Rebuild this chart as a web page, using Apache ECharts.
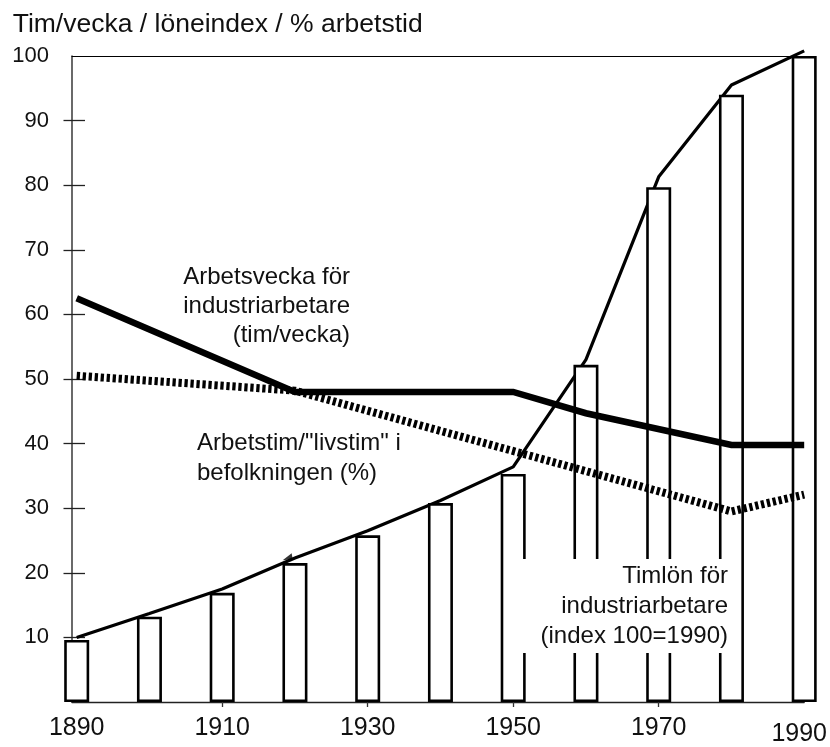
<!DOCTYPE html>
<html>
<head>
<meta charset="utf-8">
<title>Arbetstid och timlön 1890-1990</title>
<script src="https://cdn.jsdelivr.net/npm/echarts@6.0.0/dist/echarts.min.js"></script>
<style>
  html, body { margin: 0; padding: 0; background: #fff; }
  #chart { width: 830px; height: 747px; }
</style>
</head>
<body>
<div id="chart"></div>
<script>
// decades on the x axis
const years = [1890, 1900, 1910, 1920, 1930, 1940, 1950, 1960, 1970, 1980, 1990]
// timlön för industriarbetare, index 100 = 1990 (staplar)
const wageIndex = [9.6, 13.2, 16.9, 21.5, 25.8, 30.8, 35.3, 52.2, 79.7, 94.0, 100]
// tunn linje över staplarna
const wageLine = [10.0, 13.7, 17.5, 22.3, 26.5, 31.2, 36.4, 53.0, 81.3, 95.5, 100.8]
// arbetsvecka för industriarbetare (tim/vecka)
const weekYears = [1890, 1920, 1950, 1960, 1980, 1990]
const weekHours = [62.5, 48.0, 48.0, 44.7, 39.8, 39.8]
// arbetstim / "livstim" i befolkningen (%)
const shareYears = [1890, 1920, 1980, 1990]
const workShare = [50.5, 48.2, 29.5, 32.1]
// small arrow head on the wage line near 1920
const arrowPoint = [1919.0, 22.5]

const xLabels = [1890, 1910, 1930, 1950, 1970, 1990]
const xTicks = [1910, 1930, 1950, 1970]
const yLabels = [10, 20, 30, 40, 50, 60, 70, 80, 90, 100]
const yTicks = [10, 20, 30, 40, 50, 60, 70, 80, 90]

const FONT = '"Liberation Sans", Arial, Helvetica, sans-serif'
const X_MIN = 1889.355
const X_MAX = 1990

const chart = echarts.init(document.getElementById('chart'))

chart.setOption({
  animation: false,
  backgroundColor: '#fff',
  textStyle: { fontFamily: FONT },
  grid: {
    left: 72,
    right: 25,
    top: 56,
    bottom: 40,
    containLabel: false
  },
  xAxis: [
    {
      type: 'value',
      min: X_MIN,
      max: X_MAX,
      position: 'bottom',
      axisLine: { show: true, onZero: false, lineStyle: { color: '#222', width: 1.3 } },
      axisTick: {
        show: true,
        customValues: xTicks,
        length: 5,
        lineStyle: { color: '#333', width: 1.3 }
      },
      axisLabel: {
        customValues: xLabels,
        fontSize: 25,
        color: '#111',
        margin: 14,
        formatter: v => (v === 1990 ? '{low|1990}' : String(v)),
        rich: {
          low: { fontSize: 25, color: '#111', fontFamily: FONT, padding: [6, 10, 0, 0] }
        }
      },
      splitLine: { show: false }
    },
    {
      // thin line along the top of the plot
      type: 'value',
      min: X_MIN,
      max: X_MAX,
      position: 'top',
      axisLine: { show: true, onZero: false, lineStyle: { color: '#000', width: 1.2 } },
      axisTick: { show: false },
      axisLabel: { show: false },
      splitLine: { show: false }
    }
  ],
  yAxis: [
    {
      // ticks crossing the axis + labels (moved 13px into the plot)
      type: 'value',
      min: 0,
      max: 100,
      position: 'left',
      offset: -13,
      axisLine: { show: true, onZero: false, lineStyle: { color: '#fff', opacity: 0, width: 0 } },
      axisTick: {
        show: true,
        customValues: yTicks,
        length: 21.5,
        lineStyle: { color: '#222', width: 1.3 }
      },
      axisLabel: {
        customValues: yLabels,
        fontSize: 22,
        color: '#111',
        margin: 36
      },
      splitLine: { show: false }
    },
    {
      // the visible y axis line
      type: 'value',
      min: 0,
      max: 100,
      position: 'left',
      axisLine: { show: true, onZero: false, lineStyle: { color: '#444', width: 1.6 } },
      axisTick: { show: false },
      axisLabel: { show: false },
      splitLine: { show: false }
    }
  ],
  series: [
    {
      name: 'Timlön linje',
      type: 'line',
      data: years.map((y, i) => [y, wageLine[i]]),
      symbol: 'none',
      clip: false,
      z: 2,
      lineStyle: { color: '#000', width: 3.2 }
    },
    {
      name: 'Timlön för industriarbetare',
      type: 'bar',
      data: years.map((y, i) => [y, wageIndex[i]]),
      barWidth: 25,
      clip: false,
      z: 3,
      itemStyle: { color: '#fff', borderColor: '#000', borderWidth: 2.6 }
    },
    {
      name: 'Arbetsvecka',
      type: 'line',
      data: weekYears.map((y, i) => [y, weekHours[i]]),
      symbol: 'none',
      clip: false,
      z: 4,
      lineStyle: { color: '#000', width: 6.5, join: 'miter' }
    },
    {
      name: 'Arbetstim/livstim',
      type: 'line',
      data: shareYears.map((y, i) => [y, workShare[i]]),
      symbol: 'none',
      clip: false,
      z: 4,
      lineStyle: { color: '#000', width: 8, type: [3.3, 2.7], cap: 'butt' }
    },
    {
      name: 'pil',
      type: 'scatter',
      data: [arrowPoint],
      symbol: 'path://M0,7L9,0L10,6Z',
      symbolSize: [10, 7],
      symbolKeepAspect: false,
      clip: false,
      z: 5,
      itemStyle: { color: '#000' }
    }
  ],
  graphic: [
    {
      type: 'text',
      z: 100,
      x: 12.7,
      y: 25,
      style: {
        text: 'Tim/vecka / löneindex / % arbetstid',
        font: '26.5px ' + FONT,
        fill: '#111',
        align: 'left',
        verticalAlign: 'middle'
      }
    },
    {
      type: 'text',
      z: 100,
      x: 350,
      y: 306,
      style: {
        text: 'Arbetsvecka för\nindustriarbetare\n(tim/vecka)',
        font: '24px ' + FONT,
        fill: '#111',
        lineHeight: 29,
        align: 'right',
        verticalAlign: 'middle'
      }
    },
    {
      type: 'text',
      z: 100,
      x: 197,
      y: 458,
      style: {
        text: 'Arbetstim/"livstim" i\nbefolkningen (%)',
        font: '24px ' + FONT,
        fill: '#111',
        lineHeight: 30,
        align: 'left',
        verticalAlign: 'middle'
      }
    },
    {
      type: 'text',
      z: 100,
      x: 740,
      y: 606,
      style: {
        text: 'Timlön för\nindustriarbetare\n(index 100=1990)',
        font: '24px ' + FONT,
        fill: '#111',
        lineHeight: 30,
        align: 'right',
        verticalAlign: 'middle',
        backgroundColor: '#fff',
        padding: [2, 12, 2, 36]
      }
    }
  ]
})
</script>
</body>
</html>
